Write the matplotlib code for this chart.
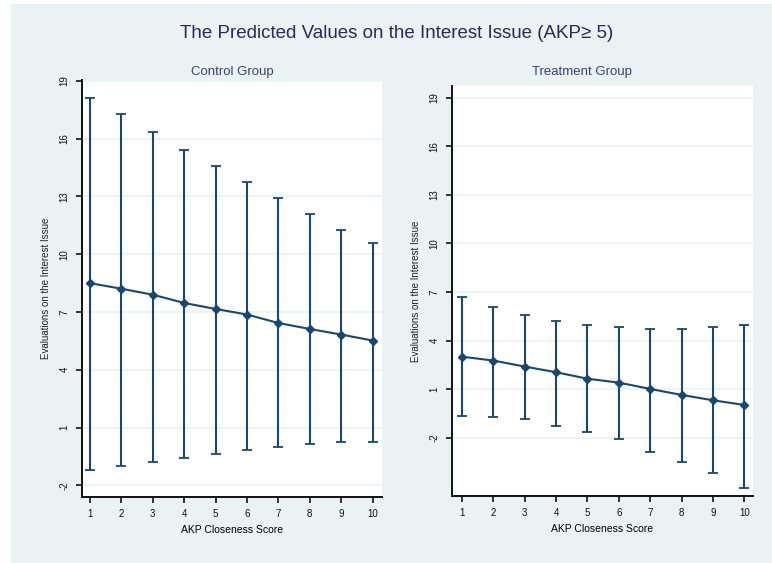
import numpy as np
import matplotlib
matplotlib.use("Agg")
import matplotlib.pyplot as plt
from matplotlib.patches import Rectangle

plt.rcParams['font.family'] = ['Liberation Sans', 'DejaVu Sans']

# data
scores = [1, 2, 3, 4, 5, 6, 7, 8, 9, 10]

control_mean = [8.50, 8.21, 7.90, 7.47, 7.16, 6.87, 6.43, 6.12, 5.83, 5.52]
control_hi = [18.14, 17.31, 16.36, 15.43, 14.60, 13.77, 12.94, 12.11, 11.27, 10.56]
control_lo = [-1.20, -0.98, -0.79, -0.56, -0.37, -0.15, -0.03, 0.14, 0.26, 0.26]

treat_mean = [3.01, 2.77, 2.40, 2.05, 1.65, 1.41, 1.02, 0.65, 0.32, 0.03]
treat_hi = [6.68, 6.10, 5.59, 5.22, 4.97, 4.83, 4.70, 4.70, 4.83, 4.97]
treat_lo = [-0.63, -0.73, -0.85, -1.25, -1.62, -2.09, -2.85, -3.47, -4.19, -5.07]

y_ticks = [-2, 1, 4, 7, 10, 13, 16, 19]

NAVY = '#1A476F'
BG = '#EAF2F3'

fig = plt.figure(figsize=(7.72, 5.63), dpi=100, facecolor='white')
fig.patches.append(Rectangle((11 / 772, 0), 1, (563 - 4) / 563,
                             transform=fig.transFigure, facecolor=BG,
                             edgecolor='none', zorder=-10))

fig.text(397 / 772, 1 - 33 / 563, 'The Predicted Values on the Interest Issue (AKP\u2265 5)',
         ha='center', va='center', fontsize=13.5, color='#2A2A5C')


def draw_panel(rect, mean, lo, hi, ylim, xlim, title, title_x):
    ax = fig.add_axes(rect)
    ax.set_facecolor('white')
    m = np.array(mean)
    err = [m - np.array(lo), np.array(hi) - m]
    ax.errorbar(scores, mean, yerr=err, color=NAVY, lw=1.5, elinewidth=1.5,
                capsize=3.5, capthick=1.3, marker='D', markersize=4.5,
                zorder=3)
    ax.set_xlim(*xlim)
    ax.set_ylim(*ylim)
    ax.set_xticks(scores)
    ax.set_yticks(y_ticks)
    ax.set_yticklabels([str(t) for t in y_ticks], rotation=90, va='center')
    ax.grid(axis='y', color=BG, lw=1.2, zorder=0)
    for s in ['top', 'right']:
        ax.spines[s].set_visible(False)
    for s in ['left', 'bottom']:
        ax.spines[s].set_linewidth(1.4)
        ax.spines[s].set_color('#111111')
    ax.tick_params(axis='y', direction='out', length=4, width=1.2, labelsize=7,
                   colors='#111111', pad=5)
    ax.tick_params(axis='x', direction='out', length=4, width=1.2, labelsize=7,
                   colors='#111111', pad=5)
    ax.set_xlabel('AKP Closeness Score', fontsize=7.5, labelpad=4)
    ax.set_ylabel('Evaluations on the Interest Issue', fontsize=7, labelpad=6,
                  color='#222222')
    fig.text(title_x / 772, 1 - 72 / 563, title, ha='center', va='center',
             fontsize=9.5, color='#34457A')
    return ax


draw_panel([82 / 772, (563 - 496.5) / 563, 300 / 772, (496.5 - 80) / 563],
           control_mean, control_lo, control_hi,
           (-2.58, 19.05), (0.745, 10.30), 'Control Group', 232)

draw_panel([452 / 772, (563 - 496) / 563, 301 / 772, (496 - 86) / 563],
           treat_mean, treat_lo, treat_hi,
           (-5.59, 19.72), (0.68, 10.28), 'Treatment Group', 582)

fig.savefig('out.png', dpi=100, facecolor=fig.get_facecolor())
